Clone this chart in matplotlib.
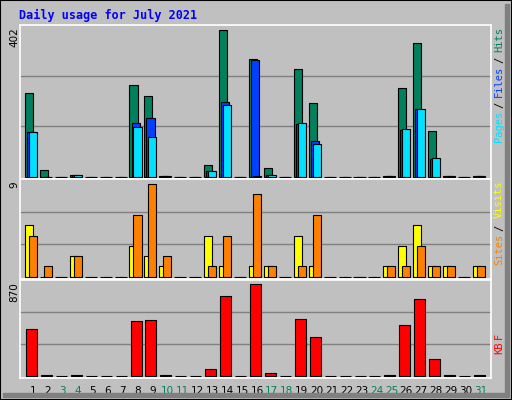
"""Webalizer-style daily usage chart for July 2021."""

import matplotlib
matplotlib.use("Agg")
import matplotlib.pyplot as plt
import numpy as np
from matplotlib.patches import Rectangle

DAYS = list(range(1, 32))
HITS = [228, 17, 0, 6, 0, 0, 0, 250, 220, 2, 0, 0, 31, 402, 0, 321, 23, 0,
        294, 201, 0, 0, 0, 0, 1, 242, 365, 124, 1, 0, 1]
FILES = [121, 0, 0, 6, 0, 0, 0, 146, 160, 2, 0, 0, 15, 203, 0, 318, 6, 0,
         143, 97, 0, 0, 0, 0, 1, 128, 185, 48, 1, 0, 1]
PAGES = [121, 0, 0, 6, 0, 0, 0, 135, 108, 2, 0, 0, 16, 195, 0, 1, 6, 0,
         146, 89, 0, 0, 0, 0, 1, 130, 186, 50, 1, 0, 1]
SITES = [5, 0, 0, 2, 0, 0, 0, 3, 2, 1, 0, 0, 4, 1, 0, 1, 1, 0,
         4, 1, 0, 0, 0, 0, 1, 3, 5, 1, 1, 0, 1]
VISITS = [4, 1, 0, 2, 0, 0, 0, 6, 9, 2, 0, 0, 1, 4, 0, 8, 1, 0,
          1, 6, 0, 0, 0, 0, 1, 1, 3, 1, 1, 0, 1]
KBYTES = [441, 2, 0, 2, 0, 0, 0, 518, 527, 2, 0, 0, 60, 756, 0, 870, 22, 0,
          537, 365, 0, 0, 0, 0, 2, 479, 727, 156, 2, 0, 2]
WEEKENDS = [3, 4, 10, 11, 17, 18, 24, 25, 31]

W, H = 512, 400
BG = "#C0C0C0"
GREEN = "#00805C"
MONO = "DejaVu Sans Mono"

fig = plt.figure(figsize=(W / 100, H / 100), dpi=100, facecolor=BG)


def px(x0, y0, x1, y1):
    """Pixel box (top-left origin) to figure fraction rect."""
    return [x0 / W, 1 - y1 / H, (x1 - x0) / W, (y1 - y0) / H]


# outer 3D border
fig.patches.append(Rectangle((0, 0), 1, 1, transform=fig.transFigure,
                             fill=False, ec="black", lw=1.5))
fig.patches.append(Rectangle((3 / W, 3 / H), (W - 7) / W, 4 / H,
                             transform=fig.transFigure, color="#808080"))
fig.patches.append(Rectangle((1 - 7 / W, 3 / H), 4 / W, (H - 7) / H,
                             transform=fig.transFigure, color="#808080"))

fig.text(19 / W, 1 - 15 / H, "Daily usage for July 2021", color="#0000FF",
         family=MONO, weight="bold", fontsize=8.5, va="center")

x_lo = 0.13
x_hi = 31.67
days = np.array(DAYS)


def panel(y_top, y_base, y_max_px, vmax):
    ax = fig.add_axes(px(20, y_top, 491, y_base + 2))
    ax.set_facecolor(BG)
    ax.set_xlim(x_lo, x_hi)
    top = vmax * (y_base - y_top) / (y_base - y_max_px)
    pad = top * 2 / (y_base - y_top)
    ax.set_ylim(-pad, top)
    for f in (1 / 3, 2 / 3):
        ax.axhline(top * f, color="#808080", lw=1, zorder=0)
    ax.set_xticks([])
    ax.set_yticks([])
    for s in ax.spines.values():
        s.set_color("white")
        s.set_linewidth(1.2)
    return ax


bar_kw = dict(align="edge", edgecolor="black", linewidth=0.8)

ax1 = panel(25, 176.7, 29.7, max(HITS))
ax1.bar(days - 0.54, HITS, 0.54, color=GREEN, **bar_kw)
ax1.bar(days - 0.40, FILES, 0.54, color="#0040FF", **bar_kw)
ax1.bar(days - 0.27, PAGES, 0.54, color="#00E0FF", **bar_kw)

ax2 = panel(179, 276.7, 184, max(VISITS))
ax2.bar(days - 0.54, SITES, 0.54, color="#FFFF00", **bar_kw)
ax2.bar(days - 0.27, VISITS, 0.54, color="#FF8000", **bar_kw)

ax3 = panel(280, 375.7, 284, max(KBYTES))
ax3.bar(days - 0.47, KBYTES, 0.74, color="#FF0000", **bar_kw)
ax3.set_xticks(days)
ax3.set_xticklabels([str(d) for d in DAYS], fontsize=7.5)
ax3.tick_params(axis="x", length=0, pad=6)
for lab, d in zip(ax3.get_xticklabels(), DAYS):
    lab.set_color(GREEN if d in WEEKENDS else "black")

# left max labels
for y, txt in [(27, str(max(HITS))), (181, str(max(VISITS))),
               (282, str(max(KBYTES)))]:
    fig.text(14 / W, 1 - y / H, txt, rotation=90, fontsize=7.5,
             ha="center", va="top")


def right_label(y_top, parts):
    y = y_top
    for txt, col in parts:
        t = fig.text(499 / W, 1 - y / H, txt, rotation=90, color=col,
                     family=MONO, fontsize=7.5, ha="center", va="top")
        y += len(txt) * 6.9 + 2


right_label(27, [("Hits", GREEN), ("/", "black"), ("Files", "#0040FF"),
                 ("/", "black"), ("Pages", "#00E0FF")])
right_label(181, [("Visits", "#FFFF00"), ("/", "black"),
                  ("Sites", "#FF8000")])
right_label(333, [("F", "#FF0000"), ("KB", "#FF0000")])

fig.savefig("out.png", dpi=100, facecolor=BG)
